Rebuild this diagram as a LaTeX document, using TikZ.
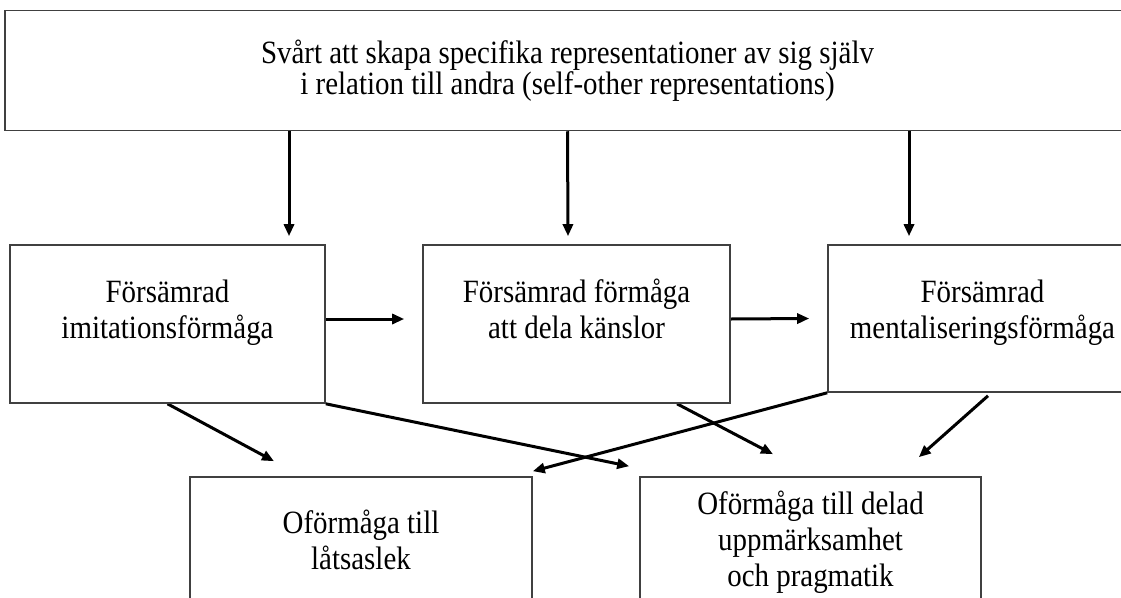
\documentclass[tikz,border=0pt]{standalone}
\usepackage{fontspec}
\setmainfont[FakeStretch=0.89]{Liberation Serif}
\usepackage{tikz}
\usetikzlibrary{arrows.meta}
\pgfdeclarelayer{pilar_layer}
\pgfdeclarelayer{schema}
\pgfsetlayers{pilar_layer,schema,main}
\tikzstyle{none}=[inner sep=0pt]
\tikzstyle{ruta}=[draw=black!75,line width=1.6pt,fill=white,inner sep=0pt,align=center,font=\fontsize{32.5}{36}\selectfont]
\tikzstyle{rubrik}=[ruta,font=\fontsize{32.5}{26}\selectfont]
\tikzstyle{line}=[draw,line width=3pt,-{Triangle[length=12pt,width=10pt]}]

\begin{document}
\begin{tikzpicture}[x=1pt,y=-1pt]
		\useasboundingbox (0,0) rectangle (1121,597);
		\begin{pgfonlayer}{schema}
			\node [style=rubrik,minimum width=1125pt] (svart) at (567.5,70.5) {\rule{0pt}{53pt}Svårt att skapa specifika representationer av sig själv\\i relation till andra (self-other representations)\rule[-36pt]{0pt}{0pt}};
			\node [style=ruta,minimum width=315pt] (imitation) at (167.5,324) {\rule{0pt}{57pt}Försämrad\\imitationsförmåga\rule[-65pt]{0pt}{0pt}};
			\node [style=ruta,minimum width=307pt] (kanslor) at (576.5,324) {\rule{0pt}{57pt}Försämrad förmåga\\att dela känslor\rule[-65pt]{0pt}{0pt}};
			\node [style=ruta,minimum width=309pt] (mentalisering) at (982.5,318.5) {\rule{0pt}{57pt}Försämrad\\mentaliseringsförmåga\rule[-54pt]{0pt}{0pt}};
			\node [style=ruta,minimum width=342pt] (latsaslek) at (361,548.5) {\rule{0pt}{56pt}Oförmåga till\\låtsaslek\rule[-51pt]{0pt}{0pt}};
			\node [style=ruta,minimum width=341pt] (uppmarksamhet) at (810.5,548.5) {\rule{0pt}{37pt}Oförmåga till delad\\uppmärksamhet\\och pragmatik\rule[-34pt]{0pt}{0pt}};
		\end{pgfonlayer}
		\begin{pgfonlayer}{pilar_layer}
			 \path [style=line] ([xshift=-278.5pt]svart.south) -- ([xshift=121.5pt,yshift=8pt]imitation.north);
			 \path [style=line] (svart.south) -- ([xshift=-8.5pt,yshift=8pt]kanslor.north);
			 \path [style=line] ([xshift=341.5pt]svart.south) -- ([xshift=-73.5pt,yshift=8pt]mentalisering.north);
			 \path [style=line] ([yshift=5pt]imitation.east) -- ([xshift=-18pt,yshift=5pt]kanslor.west);
			 \path [style=line] ([yshift=5pt]kanslor.east) -- ([xshift=-18pt]mentalisering.west);
			 \path [style=line] (imitation.south) -- ([xshift=-87pt,yshift=15pt]latsaslek.north);
			 \path [style=line] (imitation.south east) -- ([xshift=-10pt,yshift=10pt]uppmarksamhet.north west);
			 \path [style=line] (mentalisering.south west) -- ([yshift=5pt]latsaslek.north east);
			 \path [style=line] ([xshift=100.5pt]kanslor.south) -- ([xshift=-37.5pt,yshift=22pt]uppmarksamhet.north);
			 \path [style=line] ([xshift=5.5pt,yshift=-3pt]mentalisering.south) -- ([xshift=-63pt,yshift=19pt]uppmarksamhet.north east);
		\end{pgfonlayer}
\end{tikzpicture}
\end{document}
